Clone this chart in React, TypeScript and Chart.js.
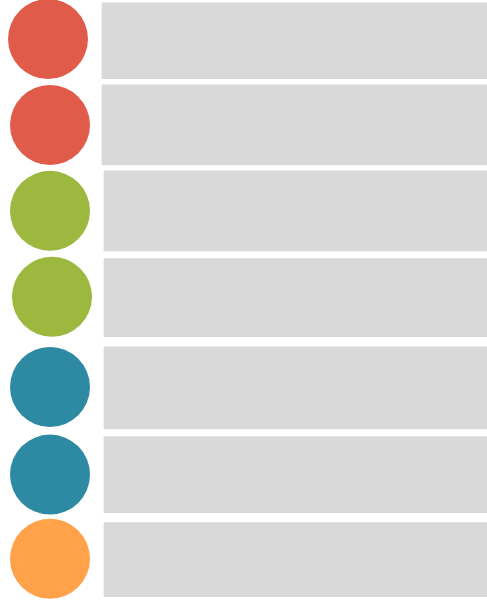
import React, { useEffect, useRef } from "react";
import { Chart, registerables } from "chart.js";

Chart.register(...registerables);

// Row index of each item (top to bottom)
const rows = [0, 1, 2, 3, 4, 5, 6];
// Circle marker colours per row
const circleColors = ["#E05B4A", "#E05B4A", "#9DB83E", "#9DB83E", "#2E8AA3", "#2E8AA3", "#FFA24A"];
// Circle marker values per row
const circleX = [48, 50, 50, 52, 50, 50, 50];
const circleY = [-0.01, 0.98, 1.97, 2.96, 4.0, 5.01, 5.98];
// Bar ranges (start, end) and row value per row
const barStart = [102, 102, 104, 104, 104, 104, 104];
const barEnd = [487, 487, 487, 487, 487, 487, 487];
const barY = [0.01, 0.98, 1.97, 2.97, 4.01, 5.01, 5.99];

// Styling: bar thickness per row (pixels)
const barThicknessStyle = [76, 80, 80, 78, 82, 76, 74];

export default function App() {
  const ref = useRef<HTMLCanvasElement | null>(null);

  useEffect(() => {
    document.body.style.margin = "0";
    const canvas = ref.current;
    if (!canvas) return;
    const barSets = rows.map((i) => ({
      type: "bar",
      indexAxis: "y",
      grouped: false,
      data: [{ x: [barStart[i], barEnd[i]], y: barY[i] }],
      backgroundColor: "#D9D9D9",
      borderWidth: 0,
      barThickness: barThicknessStyle[i],
      order: 2,
    }));
    const chart = new Chart(canvas, {
      type: "bar",
      data: {
        datasets: [
          ...(barSets as any[]),
          {
            type: "bubble",
            data: rows.map((i) => ({ x: circleX[i], y: circleY[i], r: 40 })),
            backgroundColor: circleColors,
            borderWidth: 0,
            hoverRadius: 0,
            order: 1,
          } as any,
        ],
      },
      options: {
        responsive: false,
        maintainAspectRatio: false,
        animation: false,
        layout: { padding: 0, autoPadding: false },
        plugins: { legend: { display: false }, tooltip: { enabled: false } },
        scales: {
          x: { type: "linear", min: 0, max: 487, offset: false, grace: 0, display: false, grid: { offset: false } },
          y: { type: "linear", min: -0.46, max: 6.49, reverse: true, offset: false, grace: 0, display: false, grid: { offset: false } },
        },
      } as any,
    });
    return () => chart.destroy();
  }, []);

  return (
    <div style={{ position: "fixed", left: 0, top: 0, width: 487, height: 603, background: "#fff" }}>
      <canvas ref={ref} width={487} height={603} style={{ display: "block" }} />
    </div>
  );
}
